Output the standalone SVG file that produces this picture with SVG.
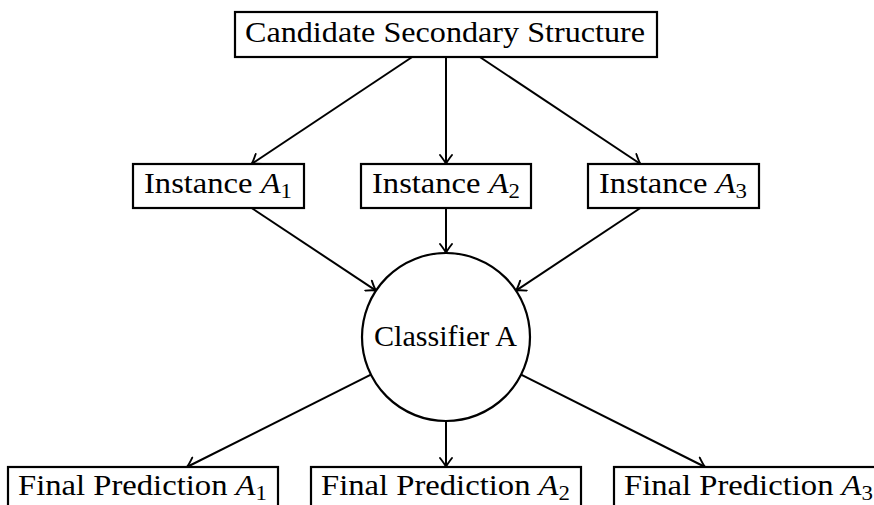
<svg xmlns="http://www.w3.org/2000/svg" width="874" height="505" viewBox="0 0 874 505">
<style>
.box{fill:#fff;stroke:#000;stroke-width:2.2}
.lbl{font-family:"Liberation Serif","Times New Roman",serif;font-size:30px;fill:#000}
.it{font-style:italic}
.edge{stroke:#000;stroke-width:2;fill:none;marker-end:url(#arr)}
</style>
<defs>
<marker id="arr" markerUnits="userSpaceOnUse" markerWidth="14" markerHeight="14" viewBox="-11 -7 13 14" refX="0" refY="0" orient="auto">
<path d="M-9,-6 Q-3,-1.3 0,0 Q-3,1.3 -9,6" fill="none" stroke="#000" stroke-width="1.9" stroke-linecap="round"/>
</marker>
</defs>
<rect width="874" height="505" fill="#fff"/>
<g id="connectors">
<line class="edge" x1="412.2" y1="57" x2="251.5" y2="164"/>
<line class="edge" x1="446" y1="57" x2="446" y2="164"/>
<line class="edge" x1="479.8" y1="57" x2="640.5" y2="164"/>
<line class="edge" x1="251.6" y1="208" x2="376" y2="290.6"/>
<line class="edge" x1="446" y1="208" x2="446" y2="253"/>
<line class="edge" x1="640.4" y1="208" x2="516" y2="290.6"/>
<line class="edge" x1="370.9" y1="374.7" x2="186.9" y2="467"/>
<line class="edge" x1="446" y1="421" x2="446" y2="467"/>
<line class="edge" x1="521.1" y1="374.7" x2="705.1" y2="467"/>
</g>
<g id="candidate">
<rect class="box" x="235" y="12" width="422" height="45"/>
<text class="lbl" x="245" y="42" textLength="400" lengthAdjust="spacingAndGlyphs">Candidate Secondary Structure</text>
</g>
<g id="instanceA1">
<rect class="box" x="133" y="164" width="171" height="44"/>
<text class="lbl" x="144" y="193" textLength="148" lengthAdjust="spacingAndGlyphs">Instance <tspan class="it">A</tspan><tspan font-size="21" dy="5">1</tspan></text>
</g>
<g id="instanceA2">
<rect class="box" x="361" y="164" width="170" height="44"/>
<text class="lbl" x="372" y="193" textLength="148" lengthAdjust="spacingAndGlyphs">Instance <tspan class="it">A</tspan><tspan font-size="21" dy="5">2</tspan></text>
</g>
<g id="instanceA3">
<rect class="box" x="588" y="164" width="171" height="44"/>
<text class="lbl" x="599" y="193" textLength="148" lengthAdjust="spacingAndGlyphs">Instance <tspan class="it">A</tspan><tspan font-size="21" dy="5">3</tspan></text>
</g>
<g id="classifierA">
<circle cx="446" cy="337" r="84" fill="#fff" stroke="#000" stroke-width="2.2"/>
<text class="lbl" x="374" y="346" textLength="143" lengthAdjust="spacingAndGlyphs">Classifier A</text>
</g>
<g id="finalA1">
<rect class="box" x="8" y="467" width="270" height="44"/>
<text class="lbl" x="18" y="495" textLength="249" lengthAdjust="spacingAndGlyphs">Final Prediction <tspan class="it">A</tspan><tspan font-size="21" dy="5">1</tspan></text>
</g>
<g id="finalA2">
<rect class="box" x="311" y="467" width="270" height="44"/>
<text class="lbl" x="321" y="495" textLength="249" lengthAdjust="spacingAndGlyphs">Final Prediction <tspan class="it">A</tspan><tspan font-size="21" dy="5">2</tspan></text>
</g>
<g id="finalA3">
<rect class="box" x="614" y="467" width="270" height="44"/>
<text class="lbl" x="624" y="495" textLength="249" lengthAdjust="spacingAndGlyphs">Final Prediction <tspan class="it">A</tspan><tspan font-size="21" dy="5">3</tspan></text>
</g>
</svg>
